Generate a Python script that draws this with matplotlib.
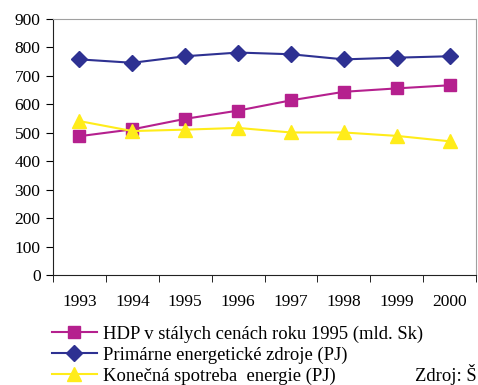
import numpy as np
import matplotlib.pyplot as plt

plt.rcParams['font.family'] = ['Liberation Serif', 'DejaVu Serif']

years = ['1993', '1994', '1995', '1996', '1997', '1998', '1999', '2000']
hdp = [488, 512, 549, 578, 614, 644, 656, 667]
primary = [758, 746, 769, 782, 776, 758, 764, 769]
final = [541, 506, 511, 517, 501, 501, 489, 470]

x = np.arange(len(years))

fig = plt.figure(figsize=(4.78, 3.85), dpi=100)
ax = fig.add_axes([0.111, 0.2857, 0.885, 0.665])

ax.plot(x, hdp, color='#b5208e', marker='s', markersize=9, lw=1.5,
        label='HDP v stálych cenách roku 1995 (mld. Sk)')
ax.plot(x, primary, color='#2e3192', marker='D', markersize=8, lw=1.5,
        label='Primárne energetické zdroje (PJ)')
ax.plot(x, final, color='#ffec1a', marker='^', markersize=10, lw=1.5,
        label='Konečná spotreba  energie (PJ)')

ax.set_xlim(-0.5, 7.5)
ax.set_ylim(0, 900)
ax.set_yticks(np.arange(0, 901, 100))
ax.set_xticks(x)
ax.set_xticklabels(years)
ax.set_xticks(np.arange(-0.5, 8, 1), minor=True)
ax.tick_params(axis='x', which='major', length=0, pad=14, labelsize=12.5)
ax.tick_params(axis='x', which='minor', length=5, direction='out')
ax.tick_params(axis='y', length=5, direction='out', labelsize=12.5, pad=4)

for s in ['top', 'right']:
    ax.spines[s].set_color('#a0a0a0')
for s in ['left', 'bottom']:
    ax.spines[s].set_color('#222222')

fig.legend(loc='upper left', bbox_to_anchor=(0.109, 0.155), frameon=False,
           fontsize=13.4, handlelength=2.4, handletextpad=0.32,
           labelspacing=0.2, borderaxespad=0, borderpad=0)

fig.text(0.868, 0.0, 'Zdroj: Š', fontsize=13.4, va='bottom')

fig.savefig('out.png', dpi=100)
